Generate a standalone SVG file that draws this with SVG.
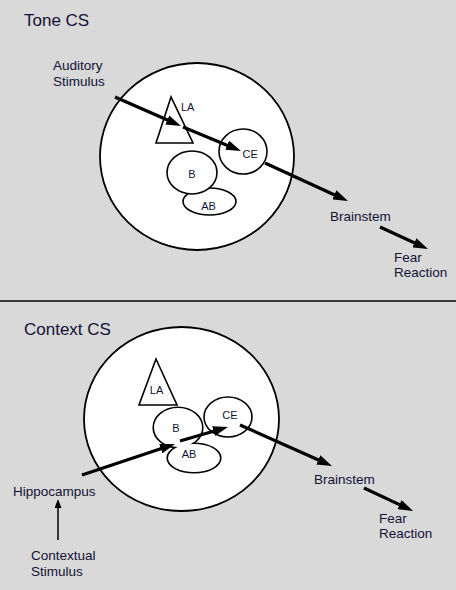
<svg xmlns="http://www.w3.org/2000/svg" width="456" height="590" viewBox="0 0 456 590">
<defs>
<marker id="ah" markerUnits="userSpaceOnUse" viewBox="0 0 15 10" refX="7" refY="5" markerWidth="15" markerHeight="10" orient="auto">
<path d="M0,0 L15,5 L0,10 z" fill="#000"/>
</marker>
<marker id="ahs" markerUnits="userSpaceOnUse" viewBox="0 0 9 7" refX="4" refY="3.5" markerWidth="9" markerHeight="7" orient="auto">
<path d="M0,0 L9,3.5 L0,7 z" fill="#000"/>
</marker>
</defs>
<style>
text{font-family:"Liberation Sans",Arial,sans-serif;fill:#121234}
.t{font-size:17px}
.l{font-size:13.5px}
.s{font-size:11px}
.m{text-anchor:middle}
.sh{fill:#fff;stroke:#000;stroke-width:1.6}
.big{fill:#fff;stroke:#000;stroke-width:1.8}
.a{stroke:#000;stroke-width:3.2;fill:none;marker-end:url(#ah)}
.th{stroke:#000;stroke-width:1.5;fill:none;marker-end:url(#ahs)}
</style>
<rect width="456" height="590" fill="#d9d9d9"/>
<line x1="0" y1="301" x2="456" y2="301" stroke="#000" stroke-width="1.6"/>

<!-- Top panel -->
<text class="t" x="24" y="26">Tone CS</text>
<g id="amygdala1"><ellipse class="big" cx="197" cy="156.5" rx="97" ry="93.5"/></g>
<g id="LA1"><polygon class="sh" points="171,97 156,143 193,143"/><text class="s" x="181" y="111">LA</text></g>
<g id="AB1"><ellipse class="sh" cx="209.5" cy="201.5" rx="26.5" ry="13.5"/><text class="s m" x="208.5" y="209.5">AB</text></g>
<g id="B1"><ellipse class="sh" cx="192" cy="172.5" rx="25" ry="21.5"/><text class="s m" x="192" y="177.5">B</text></g>
<g id="CE1"><ellipse class="sh" cx="243" cy="151.5" rx="24" ry="22.5"/><text class="s" x="242.5" y="158">CE</text></g>
<g id="aud"><text class="l" x="53" y="70">Auditory</text><text class="l" x="53" y="85.5">Stimulus</text></g>
<g id="brain1"><text class="l" x="330" y="221">Brainstem</text></g>
<g id="fear1"><text class="l" x="394" y="261.5">Fear</text><text class="l" x="394" y="277">Reaction</text></g>

<!-- Bottom panel -->
<text class="t" x="24" y="335">Context CS</text>
<g id="amygdala2"><ellipse class="big" cx="181.5" cy="419" rx="97.5" ry="92"/></g>
<g id="LA2"><polygon class="sh" points="156,359 139,405 177,405"/><text class="s m" x="156.5" y="394">LA</text></g>
<g id="BAB2">
<ellipse cx="178" cy="427.5" rx="24" ry="19.5" fill="#fff" stroke="#000" stroke-width="3.2"/>
<ellipse cx="194" cy="458" rx="26" ry="14" fill="#fff" stroke="#000" stroke-width="3.2"/>
<ellipse cx="178" cy="427.5" rx="24" ry="19.5" fill="#fff"/>
<ellipse cx="194" cy="458" rx="26" ry="14" fill="#fff"/>
<text class="s m" x="176" y="432">B</text>
<text class="s m" x="189" y="457.5">AB</text>
</g>
<g id="CE2"><ellipse class="sh" cx="228" cy="417" rx="24" ry="20"/><text class="s m" x="230" y="418.5">CE</text></g>
<g id="hip"><text class="l" x="13" y="495.5">Hippocampus</text></g>
<g id="ctx"><text class="l" x="31" y="560">Contextual</text><text class="l" x="31" y="575.5">Stimulus</text></g>
<g id="brain2"><text class="l" x="314" y="483.5">Brainstem</text></g>
<g id="fear2"><text class="l" x="379" y="522.5">Fear</text><text class="l" x="379" y="538">Reaction</text></g>

<g id="connectors">
<line class="a" x1="115" y1="97" x2="173.7" y2="122.8"/>
<line class="a" x1="183" y1="127" x2="233.6" y2="147.9"/>
<line class="a" x1="265" y1="163" x2="340.7" y2="197.7"/>
<line class="a" x1="380" y1="227" x2="420.7" y2="245.7"/>
<line class="a" x1="82" y1="475" x2="167.4" y2="446.5"/>
<line class="a" x1="180" y1="441" x2="220.3" y2="429.2"/>
<line class="a" x1="240" y1="425" x2="324.7" y2="462.7"/>
<line class="a" x1="364" y1="488" x2="405.8" y2="507.6"/>
<line class="th" x1="58" y1="540" x2="58" y2="504"/>
</g>
</svg>
